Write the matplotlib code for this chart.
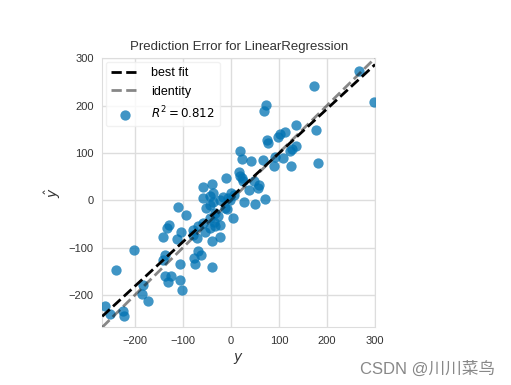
import numpy as np
import matplotlib
matplotlib.use("Agg")
import matplotlib.pyplot as plt

y_true = [267, 172, 297, 73, 69, 135, 177, 112, 103, 98, 74, 78, 135, 128, 123,
          19, 24, 41, 66, 92, 108, 89, 126, 181, 16, 19, 22, 49, 59, 38, -10,
          -40, -59, 26, 71, 50, 27, 7, 1, -6, -2, -58, -44, -37, -51, -44, -37,
          -23, -16, -12, 5, -33, -44, -26, -23, -58, -68, -54, -44, -33, -23,
          -40, -71, -79, -110, -94, -129, -134, -103, -141, -113, -201, -138,
          -141, -76, -62, -69, -106, -75, -39, -240, -138, -124, -132, -106,
          -183, -101, -186, -172, -262, -252, -224, -222, 57, -9, -35, -78]
y_pred = [272, 242, 208, 201, 189, 158, 149, 145, 139, 133, 128, 121, 114, 109, 103,
          105, 88, 83, 84, 92, 90, 72, 72, 79, 59, 52, 46, 41, 33, 22, 47,
          35, 27, 40, 3, -7, -3, 11, 16, 4, 0, 4, 8, 15, -17, -10, -4,
          1, 6, -17, -38, -27, -38, -34, -52, -48, -55, -66, -59, -55, -77,
          -87, -80, -73, -15, -31, -52, -58, -68, -77, -81, -105, -115,
          -126, -121, -115, -107, -135, -135, -140, -147, -159, -159, -173, -168,
          -178, -189, -198, -213, -224, -240, -233, -245, 25, -18, -45, -62]
r2_text = "$R^2 = 0.812$"
title = "Prediction Error for LinearRegression"
lims = (-268, 300)

x = np.array(y_true)
y = np.array(y_pred)

plt.rcParams['font.family'] = ['Liberation Sans', 'DejaVu Sans']
fig = plt.figure(figsize=(5.11, 3.85), dpi=100)
ax = fig.add_axes([0.2, 0.15, 0.534, 0.699])

ax.scatter(x, y, s=55, c='#0072B2', alpha=0.75, linewidths=0, label=r2_text, zorder=3)

m, b = np.polyfit(x, y, 1)
xx = np.array(lims)
ax.plot(xx, m * xx + b, ls='--', color='k', lw=2, label='best fit', zorder=4)
ax.plot(xx, xx, ls='--', color='#111111', alpha=0.5, lw=2, label='identity', zorder=4)

ax.set_xlim(lims)
ax.set_ylim(lims)
ax.set_xticks([-200, -100, 0, 100, 200, 300])
ax.set_yticks([-200, -100, 0, 100, 200, 300])
ax.grid(True, color='#dddddd', lw=1)
ax.set_axisbelow(True)
for s in ax.spines.values():
    s.set_color('#dddddd')
ax.tick_params(length=0, labelsize=8, colors='#333333', pad=6)
ax.set_title(title, fontsize=9.5, color='#333333')
ax.set_xlabel('$y$', fontsize=10, color='#333333')
ax.set_ylabel(r'$\hat{y}$', fontsize=10, color='#333333')

h, l = ax.get_legend_handles_labels()
order = [1, 2, 0]
leg = ax.legend([h[i] for i in order], [l[i] for i in order], loc='upper left',
                fontsize=9, frameon=True, framealpha=0.8, edgecolor='#eeeeee',
                handlelength=2.2, handletextpad=1.0, labelspacing=0.55,
                borderaxespad=0.3)
for t in leg.get_texts():
    if 'R' in t.get_text():
        t.set_fontsize(8.6)

fig.text(0.969, 0.02, 'CSDN @川川菜鸟', ha='right', va='bottom', fontsize=12, color='#888888',
         family=['Liberation Sans', 'Noto Sans CJK SC'])

fig.savefig('out.png', dpi=100)
